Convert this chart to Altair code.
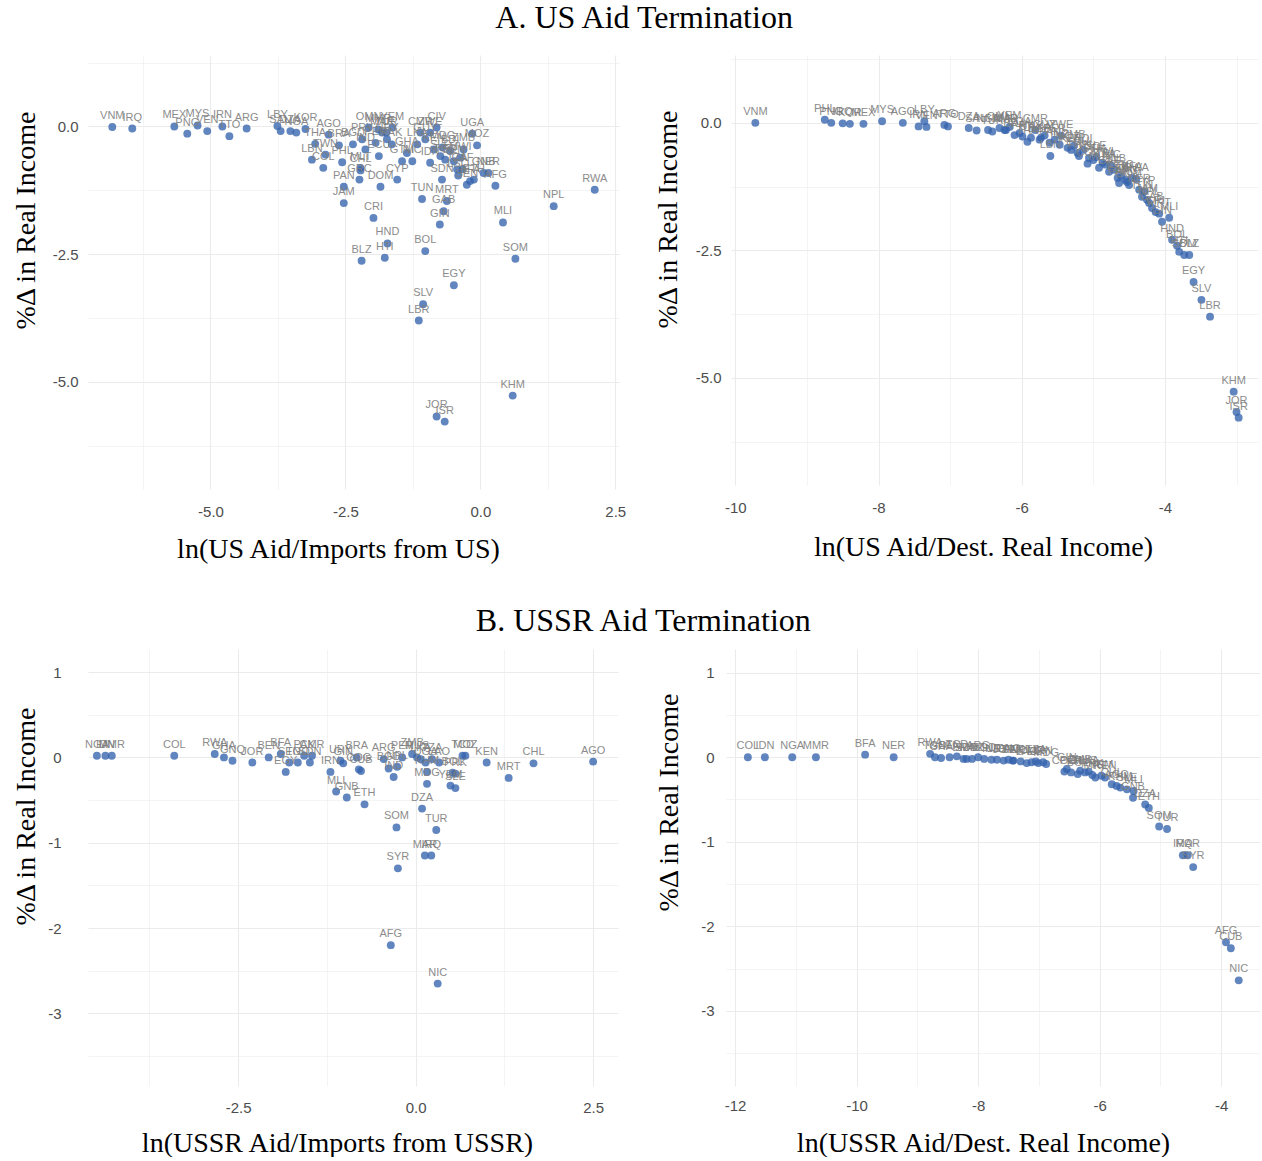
import altair as alt
import pandas as pd

# ---------------- A. US aid termination: vs ln(US Aid / Imports from US)
a1_code = ["VNM","IRQ","MEX","PNG","MYS","VEN","IRN","TTO","ARG","LBY","SAU","DZA","NGA","KOR","AGO",
           "THA","TWN","LBN","COL","BRA","PHL","BGD","PRY","PAN","JAM","MLT","GRC","CHL","CRI","MMR",
           "IND","PER","DOM","ECU","MAR","TUR","URY","PAK","CYP","GTM","GHA","NIC","LKA","CMR","TUN",
           "GUY","ZWE","IDN","KEN","SLE","SDN","MRT","GAB","GIN","TGO","BDI","BEN","TZA","MWI","ZMB",
           "SEN","BFA","ETH","MOZ","UGA","GNB","NER","AFG","MLI","NPL","RWA","HND","BLZ","HTI","BOL",
           "SOM","EGY","SLV","LBR","KHM","JOR","ISR","OMN","YEM","CIV","MDG","LSO","CAF"]
a1_x = [-6.82,-6.45,-5.67,-5.43,-5.24,-5.06,-4.78,-4.65,-4.33,-3.76,-3.70,-3.52,-3.41,-3.24,-2.81,
        -3.06,-2.87,-3.12,-2.91,-2.62,-2.56,-2.36,-2.19,-2.53,-2.53,-2.22,-2.24,-2.22,-1.98,-1.89,
        -2.13,-1.94,-1.85,-1.88,-1.82,-1.74,-1.73,-1.64,-1.54,-1.45,-1.36,-1.26,-1.17,-1.11,-1.08,
        -1.02,-0.93,-0.93,-0.86,-0.74,-0.71,-0.62,-0.68,-0.75,-0.65,-0.56,-0.49,-0.43,-0.37,-0.31,
        -0.25,-0.19,-0.12,-0.06,-0.15,0.06,0.15,0.28,0.42,1.36,2.12,-1.72,-2.20,-1.77,-1.02,
        0.65,-0.49,-1.06,-1.14,0.60,-0.81,-0.66,-2.07,-1.63,-0.81,-0.70,-0.41,-0.33]
a1_y = [-0.01,-0.04,0.00,-0.14,0.02,-0.09,0.00,-0.19,-0.04,0.01,-0.09,-0.09,-0.12,-0.05,-0.16,
        -0.34,-0.55,-0.65,-0.81,-0.37,-0.70,-0.35,-0.25,-1.18,-1.50,-0.81,-1.04,-0.86,-1.79,-0.06,
        -0.45,-0.32,-1.18,-0.58,-0.12,-0.12,-0.25,-0.35,-1.04,-0.68,-0.52,-0.68,-0.35,-0.12,-1.42,
        -0.25,-0.12,-0.71,-0.45,-0.58,-1.04,-1.46,-1.66,-1.92,-0.65,-0.48,-0.68,-0.84,-0.61,-0.45,
        -1.14,-1.07,-1.04,-0.37,-0.14,-0.91,-0.91,-1.16,-1.88,-1.56,-1.24,-2.29,-2.63,-2.57,-2.44,
        -2.59,-3.11,-3.48,-3.80,-5.27,-5.68,-5.78,-0.02,-0.02,-0.02,-0.41,-0.96,-0.84]

# ---------------- A. US aid termination: vs ln(US Aid / Dest. Real Income)
a2_code = ["VNM","PHL","PNG","IRQ","KOR","MEX","MYS","AGO","IRN","LBY","VEN","ARG","TTO","DZA","SAU",
           "NGA","TUR","MAR","OMN","MMR","YEM","BRA","UGA","PRY","THA","URY","CMR","BGD","LKA","GUY",
           "PAK","LBN","PER","IND","ZWE","MOZ","KEN","ZMB","ECU","TWN","BDI","COL","TGO","GTM","SLE",
           "MLT","MWI","TZA","CAF","NIC","GNB","ETH","PAN","GRC","SEN","AFG","DOM","BFA","RWA","NER",
           "TUN","CYP","JAM","NPL","GAB","CRI","MRT","GIN","MLI","HND","BOL","HTI","SOM","BLZ","EGY",
           "SLV","LBR","KHM","JOR","ISR"]
a2_x = [-9.72,-8.75,-8.66,-8.50,-8.40,-8.21,-7.95,-7.66,-7.44,-7.36,-7.33,-7.08,-7.03,-6.74,-6.63,
        -6.47,-6.41,-6.22,-6.31,-6.24,-6.17,-6.10,-6.03,-5.99,-5.92,-5.87,-5.81,-5.75,-5.73,-5.68,
        -5.61,-5.60,-5.54,-5.47,-5.45,-5.36,-5.31,-5.27,-5.22,-5.20,-5.14,-5.08,-5.06,-5.00,-4.96,
        -4.92,-4.87,-4.83,-4.78,-4.75,-4.71,-4.66,-4.64,-4.61,-4.55,-4.53,-4.50,-4.46,-4.40,-4.36,
        -4.32,-4.29,-4.25,-4.22,-4.18,-4.13,-4.08,-4.04,-3.94,-3.90,-3.83,-3.80,-3.73,-3.66,-3.60,
        -3.49,-3.37,-3.04,-3.00,-2.97]
a2_y = [0.00,0.06,0.00,-0.01,-0.02,-0.02,0.03,0.00,-0.07,0.03,-0.08,-0.04,-0.07,-0.10,-0.15,
        -0.14,-0.17,-0.14,-0.10,-0.14,-0.08,-0.24,-0.20,-0.27,-0.37,-0.29,-0.14,-0.33,-0.29,-0.25,
        -0.39,-0.65,-0.33,-0.43,-0.25,-0.49,-0.53,-0.45,-0.59,-0.65,-0.53,-0.80,-0.69,-0.73,-0.67,
        -0.88,-0.78,-0.82,-0.96,-0.84,-0.92,-1.08,-1.18,-1.04,-1.12,-1.16,-1.22,-1.08,-1.10,-1.31,
        -1.45,-1.35,-1.51,-1.57,-1.67,-1.75,-1.78,-1.94,-1.86,-2.29,-2.41,-2.53,-2.59,-2.59,-3.12,
        -3.47,-3.80,-5.27,-5.67,-5.78]

# ---------------- B. USSR aid termination: vs ln(USSR Aid / Imports from USSR)
b1_code = ["NGA","IDN","MMR","COL","RWA","GHA","GNQ","JOR","BEN","BFA","EGY","SEN","TGO","PAK","SDN",
           "CMR","IRN","URY","GIN","MLI","GNB","BRA","COG","CUB","ETH","ARG","BGD","IND","NPL","PER",
           "ZMB","MUS","LKA","UGA","KHM","TZA","LAO","MDG","DZA","SOM","TUR","BOL","PRK","YEM","SLE",
           "TCD","MOZ","KEN","MRT","CHL","AGO","MAR","IRQ","SYR","AFG","NIC"]
b1_x = [-4.49,-4.37,-4.28,-3.40,-2.83,-2.70,-2.58,-2.30,-2.07,-1.90,-1.83,-1.78,-1.66,-1.57,-1.49,
        -1.46,-1.20,-1.06,-1.02,-1.12,-0.97,-0.83,-0.80,-0.77,-0.72,-0.45,-0.38,-0.31,-0.26,-0.19,
        -0.05,0.02,0.07,0.14,0.16,0.23,0.33,0.16,0.09,-0.27,0.29,0.52,0.56,0.49,0.56,
        0.66,0.70,1.00,1.31,1.66,2.50,0.13,0.22,-0.25,-0.35,0.31]
b1_y = [0.02,0.02,0.02,0.02,0.04,0.00,-0.04,-0.06,0.00,0.04,-0.17,-0.06,-0.06,0.02,-0.06,
        0.02,-0.17,-0.04,-0.07,-0.40,-0.47,0.00,-0.14,-0.16,-0.55,-0.02,-0.13,-0.23,-0.11,0.00,
        0.04,0.00,-0.02,-0.06,-0.17,-0.02,-0.06,-0.31,-0.60,-0.82,-0.85,-0.18,-0.19,-0.33,-0.36,
        0.02,0.02,-0.06,-0.24,-0.07,-0.05,-1.15,-1.15,-1.30,-2.20,-2.65]

# ---------------- B. USSR aid termination: vs ln(USSR Aid / Dest. Real Income)
b2_code = ["COL","IDN","NGA","MMR","BFA","NER","RWA","TGO","GHA","BEN","BRA","SDN","ARG","URY","JOR",
           "SEN","PAK","CMR","EGY","IRN","GIN","PER","ZMB","MUS","LKA","MRT","KEN","CHL","AGO","KHM",
           "MLI","GNB","DZA","ETH","SOM","TUR","IRQ","MAR","SYR","AFG","CUB","NIC","BGD","IND","NPL",
           "LAO","TZA","MDG","BOL","PRK","YEM","SLE","TCD","MOZ","COG","GNQ"]
b2_x = [-11.79,-11.51,-11.06,-10.67,-9.86,-9.39,-8.79,-8.71,-8.61,-8.47,-8.24,-8.19,-8.00,-7.69,-7.58,
        -7.43,-7.42,-7.12,-7.01,-6.93,-6.54,-6.47,-6.32,-6.24,-6.18,-6.07,-5.91,-5.80,-5.72,-5.66,
        -5.44,-5.45,-5.25,-5.19,-5.02,-4.89,-4.63,-4.55,-4.46,-3.92,-3.84,-3.71,-7.90,-7.78,-7.30,
        -7.20,-7.05,-6.88,-6.36,-6.12,-5.97,-5.55,-8.35,-8.10,-6.58,-7.50]
b2_y = [0.00,0.00,0.00,0.00,0.03,0.00,0.04,0.00,-0.01,0.00,-0.02,-0.02,0.00,-0.03,-0.04,
        -0.04,-0.04,-0.06,-0.07,-0.06,-0.14,-0.18,-0.16,-0.18,-0.17,-0.24,-0.24,-0.32,-0.34,-0.36,
        -0.40,-0.48,-0.56,-0.60,-0.82,-0.85,-1.16,-1.16,-1.30,-2.19,-2.26,-2.64,-0.02,-0.03,-0.05,
        -0.07,-0.05,-0.08,-0.20,-0.21,-0.22,-0.38,0.01,-0.02,-0.17,-0.03]

BLUE = "#3563ad"
LABEL = "#7f7f7f"
GRID = "#ebebeb"
SERIF = "Liberation Serif"
SANS = "Liberation Sans"
MINUS = "\u2212"


def axis(orient, values, step, fmt, title, title_pos, label_pad, title_pad, offset=0):
    test = f"abs(datum.value % {step}) < 0.001"
    if fmt == "int":
        lab = "'' + datum.value"
    else:
        lab = f"replace(format(datum.value, '{fmt}'), '{MINUS}', '-')"
    kw = dict(
        values=values,
        labelExpr=f"{test} ? {lab} : ''",
        gridWidth={"condition": {"test": test, "value": 1.1}, "value": 0.55},
        gridColor=GRID,
        domain=False,
        ticks=False,
        labelFont=SANS,
        labelFontSize=15,
        labelColor="#4d4d4d",
        labelPadding=label_pad,
        labelFlush=False,
        labelOverlap=False,
        title=title,
        titleFont=SERIF,
        titleFontSize=28,
        titleFontWeight="normal",
        titleColor="#000000",
        titlePadding=title_pad,
    )
    if offset:
        kw["offset"] = offset
    if orient == "x":
        kw["titleX"] = title_pos
    else:
        kw["titleY"] = title_pos
    return alt.Axis(**kw)


def panel(codes, xs, ys, xdom, ydom, w, h, xaxis, yaxis):
    df = pd.DataFrame({"code": codes, "x": xs, "y": ys})
    xs_ = alt.Scale(domain=xdom, nice=False, zero=False)
    ys_ = alt.Scale(domain=ydom, nice=False, zero=False)
    enc = dict(
        x=alt.X("x:Q", scale=xs_, axis=xaxis),
        y=alt.Y("y:Q", scale=ys_, axis=yaxis),
    )
    base = alt.Chart(df)
    pts = base.mark_circle(size=62, color=BLUE, opacity=0.78).encode(**enc)
    txt = base.mark_text(dy=-11, fontSize=11, font=SANS, color=LABEL, opacity=0.9).encode(
        text="code:N", **enc
    )
    return alt.layer(pts, txt).properties(width=w, height=h)


A_Y_VALUES = [1.25, 0, -1.25, -2.5, -3.75, -5, -6.25]
B_Y_VALUES = [1, 0.5, 0, -0.5, -1, -1.5, -2, -2.5, -3, -3.5]
YTITLE = "%\u0394 in Real Income"

pA1 = panel(
    a1_code, a1_x, a1_y, [-7.27, 2.57], [-7.1, 1.4], 531, 434,
    axis("x", [-6.25, -5, -3.75, -2.5, -1.25, 0, 1.25, 2.5], 2.5, ".1f",
         "ln(US Aid/Imports from US)", 250, 15, 16),
    axis("y", A_Y_VALUES, 2.5, ".1f", YTITLE, 165, 10, 12),
)
pA2 = panel(
    a2_code, a2_x, a2_y, [-10.06, -2.70], [-7.1, 1.33], 527, 430,
    axis("x", [-10, -9, -8, -7, -6, -5, -4, -3], 2, "int",
         "ln(US Aid/Dest. Real Income)", 252, 15, 18),
    axis("y", A_Y_VALUES, 2.5, ".1f", YTITLE, 164, 10, 13),
)
pB1 = panel(
    b1_code, b1_x, b1_y, [-4.615, 2.85], [-3.85, 1.27], 530, 437,
    axis("x", [-3.75, -2.5, -1.25, 0, 1.25, 2.5], 2.5, ".1f",
         "ln(USSR Aid/Imports from USSR)", 249, 14, 14),
    axis("y", B_Y_VALUES, 1, "int", YTITLE, 167, 10, 7, offset=17),
)
pB2 = panel(
    b2_code, b2_x, b2_y, [-12.15, -3.36], [-3.89, 1.28], 534, 437,
    axis("x", [-12, -11, -10, -9, -8, -7, -6, -5, -4], 2, "int",
         "ln(USSR Aid/Dest. Real Income)", 257, 12, 16),
    axis("y", B_Y_VALUES, 1, "int", YTITLE, 153, 12, 17),
)


def row_title(text, offset, dx):
    return alt.TitleParams(text, font=SERIF, fontSize=32, fontWeight="normal",
                           color="#000000", anchor="middle", offset=offset, dx=dx)


rowA = alt.hconcat(pA1, pA2, spacing=28).properties(
    title=row_title("A. US Aid Termination", 17, 9))
rowB = alt.hconcat(pB1, pB2, spacing=37).properties(
    title=row_title("B. USSR Aid Termination", 11, 7))

chart = (
    alt.concat(rowA, rowB, columns=1, spacing=42, align="none")
    .properties(padding={"left": 12, "top": 2, "right": 0, "bottom": 0}, background="white")
    .configure_view(stroke=None)
)

chart.save("out.html", embed_options={"renderer": "svg", "actions": False})
